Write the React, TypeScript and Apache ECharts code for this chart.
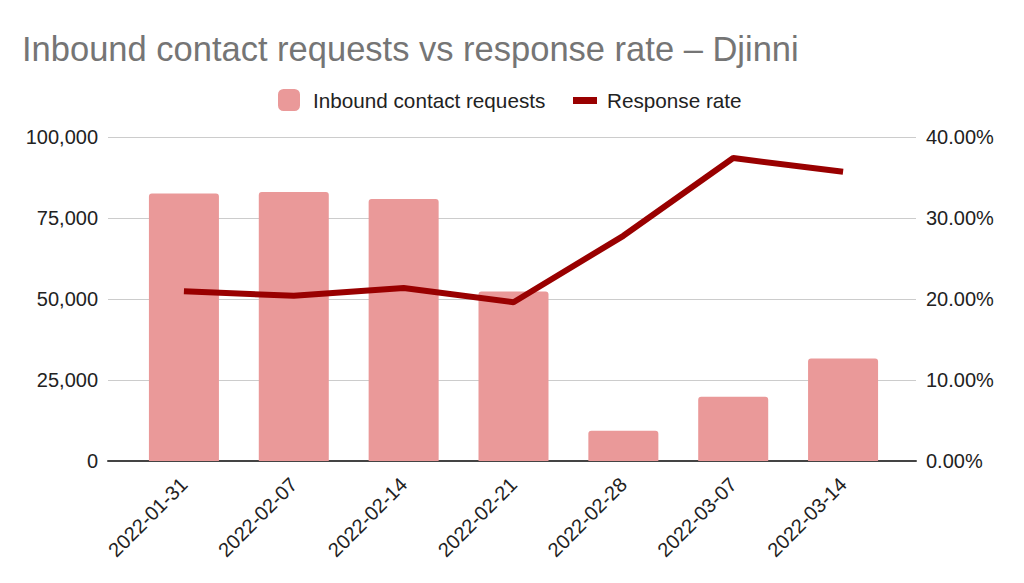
import React, { useEffect, useRef } from "react";
import * as echarts from "echarts";

const categories = [
  "2022-01-31",
  "2022-02-07",
  "2022-02-14",
  "2022-02-21",
  "2022-02-28",
  "2022-03-07",
  "2022-03-14",
];
const inboundRequests = [82600, 83000, 80900, 52300, 9300, 19800, 31600];
const responseRate = [20.95, 20.4, 21.35, 19.6, 27.8, 37.4, 35.7];
const leftTicks = { min: 0, max: 100000, interval: 25000 };
const rightTicks = { min: 0, max: 40, interval: 10 };

const FONT = "'Liberation Sans', Arial, Helvetica, sans-serif";

export default function App() {
  const ref = useRef<HTMLDivElement>(null);
  useEffect(() => {
    document.body.style.margin = "0";
    if (!ref.current) return;
    const chart = echarts.init(ref.current, undefined, { renderer: "svg" });
    const gridTop = 137;
    const gridBottom = 122;
    chart.setOption({
      animation: false,
      backgroundColor: "#ffffff",
      textStyle: { fontFamily: FONT },
      title: {
        text: "Inbound contact requests vs response rate – Djinni",
        left: 17,
        top: 26,
        textStyle: {
          fontFamily: FONT,
          fontSize: 34.5,
          fontWeight: "normal",
          color: "#757575",
        },
      },
      legend: [
        {
          data: ["Inbound contact requests"],
          left: 273,
          top: 84,
          icon: "roundRect",
          itemWidth: 22,
          itemHeight: 22,
          textStyle: {
            fontFamily: FONT,
            fontSize: 20.7,
            color: "#222222",
            padding: [0, 0, 0, 8],
          },
        },
        {
          data: ["Response rate"],
          left: 568,
          top: 84,
          icon: "path://M0,0 M0,22 M0,8 L24,8 L24,15 L0,15 Z",
          itemWidth: 24,
          itemHeight: 22,
          textStyle: {
            fontFamily: FONT,
            fontSize: 20.7,
            color: "#222222",
            padding: [0, 0, 0, 5],
          },
        },
      ],
      grid: [
        { left: 108, right: 108, top: gridTop, bottom: gridBottom },
        { left: 129, right: 126, top: gridTop, bottom: gridBottom },
      ],
      xAxis: [
        {
          gridIndex: 0,
          type: "value",
          min: 0,
          max: 1,
          axisLine: { show: true, lineStyle: { color: "#444444", width: 2 } },
          axisTick: { show: false },
          axisLabel: { show: false },
          splitLine: { show: false },
        },
        {
          gridIndex: 1,
          type: "category",
          data: categories,
          axisLine: { show: false },
          axisTick: { show: false },
          axisLabel: {
            rotate: 45,
            margin: 20,
            fontFamily: FONT,
            fontSize: 20,
            color: "#222222",
          },
        },
      ],
      yAxis: [
        {
          gridIndex: 0,
          type: "value",
          position: "left",
          ...leftTicks,
          axisLine: { show: false },
          axisTick: { show: false },
          axisLabel: {
            margin: 10,
            fontFamily: FONT,
            fontSize: 20,
            color: "#222222",
            formatter: (v: number) => v.toLocaleString("en-US"),
          },
          splitLine: { show: true, lineStyle: { color: "#cccccc", width: 1 } },
        },
        {
          gridIndex: 0,
          type: "value",
          position: "right",
          ...rightTicks,
          axisLine: { show: false },
          axisTick: { show: false },
          axisLabel: {
            margin: 10,
            fontFamily: FONT,
            fontSize: 20,
            color: "#222222",
            formatter: (v: number) => v.toFixed(2) + "%",
          },
          splitLine: { show: false },
        },
        { gridIndex: 1, type: "value", ...leftTicks, show: false },
        { gridIndex: 1, type: "value", ...rightTicks, show: false },
      ],
      series: [
        {
          name: "Inbound contact requests",
          type: "bar",
          xAxisIndex: 1,
          yAxisIndex: 2,
          data: inboundRequests,
          barWidth: 70,
          itemStyle: { color: "#ea9999", borderRadius: [3, 3, 0, 0] },
        },
        {
          name: "Response rate",
          type: "line",
          xAxisIndex: 1,
          yAxisIndex: 3,
          data: responseRate,
          symbol: "none",
          showSymbol: false,
          lineStyle: { color: "#990000", width: 6 },
          itemStyle: { color: "#990000" },
          z: 5,
        },
      ],
    });
    return () => chart.dispose();
  }, []);
  return <div ref={ref} style={{ width: 1024, height: 583 }} />;
}
